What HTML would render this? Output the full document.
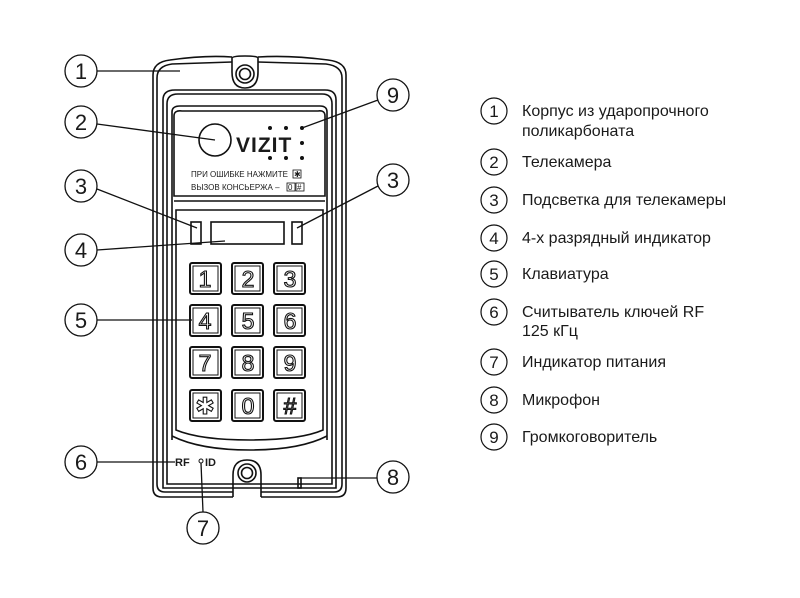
<!DOCTYPE html>
<html><head><meta charset="utf-8"><style>
body{margin:0;background:#fff;}
svg{display:block}
text{font-family:"Liberation Sans",sans-serif;fill:#1a1a1a}
.k text{fill:#fff;stroke:#111;stroke-width:1.1}
</style></head><body>
<svg width="800" height="598" viewBox="0 0 800 598" xmlns="http://www.w3.org/2000/svg">
<g fill="none" stroke="#111" stroke-width="1.6">
<path d="M232,57 Q205,55 170,60 Q153,62 153,75 L153,488 Q153,497 162,497 L233,497 M261,497 L337,497 Q346,497 346,488 L346,75 Q346,62 328,60 Q290,55 258,57"/>
<path d="M232,62 L172,64 Q157,66 157,78 L157,484 Q157,492 165,492 L233,492 M261,492 L334,492 Q342,492 342,484 L342,78 Q342,66 326,64 L258,62"/>
<path d="M232,58 L232,72 Q232,88 245,88 Q258,88 258,72 L258,58 Q258,56 245,56 Q232,56 232,58Z"/>
<circle cx="245" cy="74" r="9"/><circle cx="245" cy="74" r="5.5"/>
<path d="M163,488 L163,100 Q163,90 175,90 L325,90 Q336,90 336,100 L336,488 Z"/>
<path d="M167,484 L167,104 Q167,94 178,94 L322,94 Q332,94 332,104 L332,484 Z"/>
<path d="M172,440 L172,112 Q172,106 180,106 L320,106 Q327,106 327,112 L327,440"/>
<path d="M174,196 L174,116 Q174,110 182,111 L318,111 Q325,110 325,116 L325,196 Z"/>
<line x1="174" y1="201" x2="325" y2="201"/>
<path d="M176,430 L176,210 L323,210 L323,430 Q300,440 250,440 Q200,440 176,430Z"/>
<path d="M172,436 Q200,450 250,450 Q300,450 327,436"/>
<circle cx="215" cy="140" r="16"/>
<rect x="191" y="222" width="10" height="22"/>
<rect x="292" y="222" width="10" height="22"/>
<rect x="211" y="222" width="73" height="22"/>
<path d="M233,497 L233,475 Q233,460 247,460 Q261,460 261,475 L261,497"/>
<circle cx="247" cy="473" r="9"/><circle cx="247" cy="473" r="5.5"/>
<rect x="298" y="478" width="3" height="10"/>
</g>
<g fill="#111">
<circle cx="270" cy="128" r="2"/><circle cx="286" cy="128" r="2"/><circle cx="302" cy="128" r="2"/>
<circle cx="270" cy="158" r="2"/><circle cx="286" cy="158" r="2"/><circle cx="302" cy="158" r="2"/>
<circle cx="302" cy="143" r="2"/>
<circle cx="201" cy="461" r="2" fill="none" stroke="#111" stroke-width="1"/>
</g>
<text x="236" y="152" font-size="21" font-weight="bold" style="letter-spacing:1px">VIZIT</text>
<text x="191" y="177" font-size="8">ПРИ ОШИБКЕ НАЖМИТЕ</text>
<text x="191" y="190" font-size="8">ВЫЗОВ КОНСЬЕРЖА   –</text>
<g fill="none" stroke="#111" stroke-width="0.8"><rect x="293" y="170" width="8" height="8"/><rect x="287" y="183" width="8" height="8"/><rect x="296" y="183" width="8" height="8"/></g>
<text x="294" y="177" font-size="8">✱</text><text x="288" y="190" font-size="8">0</text><text x="297" y="190" font-size="8">#</text>
<text x="175" y="466" font-size="11" font-weight="bold">RF</text>
<text x="205" y="466" font-size="11" font-weight="bold">ID</text>
<g font-size="23" text-anchor="middle">
<g fill="#fff" stroke="#111" stroke-width="2">
<rect x="190" y="263" width="31" height="31" rx="2"/><rect x="232" y="263" width="31" height="31" rx="2"/><rect x="274" y="263" width="31" height="31" rx="2"/>
<rect x="190" y="305" width="31" height="31" rx="2"/><rect x="232" y="305" width="31" height="31" rx="2"/><rect x="274" y="305" width="31" height="31" rx="2"/>
<rect x="190" y="347" width="31" height="31" rx="2"/><rect x="232" y="347" width="31" height="31" rx="2"/><rect x="274" y="347" width="31" height="31" rx="2"/>
<rect x="190" y="390" width="31" height="31" rx="2"/><rect x="232" y="390" width="31" height="31" rx="2"/><rect x="274" y="390" width="31" height="31" rx="2"/>
</g>
<g fill="none" stroke="#111" stroke-width="1"><rect x="193" y="266" width="25" height="25"/><rect x="235" y="266" width="25" height="25"/><rect x="277" y="266" width="25" height="25"/>
<rect x="193" y="308" width="25" height="25"/><rect x="235" y="308" width="25" height="25"/><rect x="277" y="308" width="25" height="25"/>
<rect x="193" y="350" width="25" height="25"/><rect x="235" y="350" width="25" height="25"/><rect x="277" y="350" width="25" height="25"/>
<rect x="193" y="393" width="25" height="25"/><rect x="235" y="393" width="25" height="25"/><rect x="277" y="393" width="25" height="25"/></g>
<g class="k">
<text x="205" y="287">1</text><text x="248" y="287">2</text><text x="290" y="287">3</text>
<text x="205" y="329">4</text><text x="248" y="329">5</text><text x="290" y="329">6</text>
<text x="205" y="371">7</text><text x="248" y="371">8</text><text x="290" y="371">9</text>
<text x="205" y="414">✱</text><text x="248" y="414">0</text><text x="290" y="414">#</text>
</g>
</g>
<g fill="none" stroke="#111" stroke-width="1.3">
<line x1="97" y1="71" x2="180" y2="71"/>
<line x1="97" y1="124" x2="215" y2="140"/>
<line x1="97" y1="189" x2="197" y2="228"/>
<line x1="97" y1="250" x2="225" y2="241"/>
<line x1="97" y1="320" x2="192" y2="320"/>
<line x1="97" y1="462" x2="175" y2="462"/>
<line x1="201" y1="463" x2="203" y2="512"/>
<line x1="378" y1="100" x2="302" y2="128"/>
<line x1="378" y1="186" x2="297" y2="228"/>
<line x1="300" y1="478" x2="377" y2="478"/>
<circle cx="81" cy="71" r="16"/><circle cx="81" cy="122" r="16"/><circle cx="81" cy="186" r="16"/>
<circle cx="81" cy="250" r="16"/><circle cx="81" cy="320" r="16"/><circle cx="81" cy="462" r="16"/>
<circle cx="203" cy="528" r="16"/><circle cx="393" cy="95" r="16"/><circle cx="393" cy="180" r="16"/><circle cx="393" cy="477" r="16"/>
</g>
<g font-size="22" text-anchor="middle">
<text x="81" y="79">1</text><text x="81" y="130">2</text><text x="81" y="194">3</text><text x="81" y="258">4</text><text x="81" y="328">5</text><text x="81" y="470">6</text>
<text x="203" y="536">7</text><text x="393" y="103">9</text><text x="393" y="188">3</text><text x="393" y="485">8</text>
</g>
<g fill="none" stroke="#111" stroke-width="1.2">
<circle cx="494" cy="111" r="13"/><circle cx="494" cy="162" r="13"/><circle cx="494" cy="200" r="13"/><circle cx="494" cy="238" r="13"/><circle cx="494" cy="274" r="13"/><circle cx="494" cy="312" r="13"/><circle cx="494" cy="362" r="13"/><circle cx="494" cy="400" r="13"/><circle cx="494" cy="437" r="13"/>
</g>
<g font-size="17" text-anchor="middle">
<text x="494" y="117">1</text><text x="494" y="168">2</text><text x="494" y="206">3</text><text x="494" y="244">4</text><text x="494" y="280">5</text><text x="494" y="318">6</text><text x="494" y="368">7</text><text x="494" y="406">8</text><text x="494" y="443">9</text>
</g>
<g font-size="16">
<text x="522" y="116">Корпус из ударопрочного</text>
<text x="522" y="136">поликарбоната</text>
<text x="522" y="167">Телекамера</text>
<text x="522" y="205">Подсветка для телекамеры</text>
<text x="522" y="243">4-х разрядный индикатор</text>
<text x="522" y="279">Клавиатура</text>
<text x="522" y="317">Считыватель ключей RF</text>
<text x="522" y="336">125 кГц</text>
<text x="522" y="367">Индикатор питания</text>
<text x="522" y="405">Микрофон</text>
<text x="522" y="442">Громкоговоритель</text>
</g>
</svg>
</body></html>
